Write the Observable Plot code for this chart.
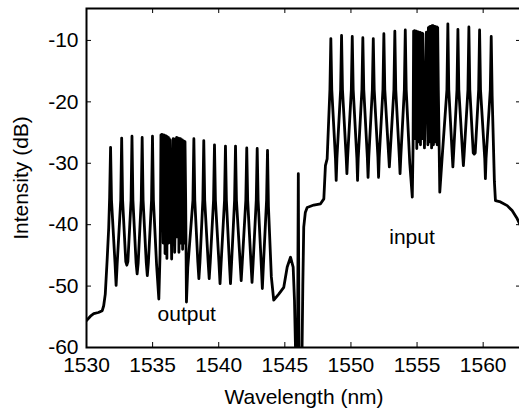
<!DOCTYPE html>
<html><head><meta charset="utf-8">
<script src="https://cdn.jsdelivr.net/npm/d3@7"></script>
<script src="https://cdn.jsdelivr.net/npm/@observablehq/plot@0.6"></script>
<style>html,body{margin:0;padding:0;background:#fff;overflow:hidden}</style>
</head><body><div id="chart"></div>
<script>
const xTicks = [1530, 1535, 1540, 1545, 1550, 1555, 1560];
const yTicks = [-60, -50, -40, -30, -20, -10];

// output spectrum (left comb)
const outputWl = [
  1530.00, 1530.30, 1530.55, 1530.90, 1531.19, 1531.30, 1531.42, 1531.56, 1531.68, 1531.75,
  1531.82, 1531.89, 1532.16, 1532.24, 1532.32, 1532.59,
  1532.66, 1532.73, 1532.97, 1533.05, 1533.13, 1533.37,
  1533.44, 1533.51, 1533.75, 1533.83, 1533.91, 1534.14,
  1534.21, 1534.28, 1534.52, 1534.60, 1534.68, 1534.92,
  1534.99, 1535.06, 1535.30, 1535.47, 1535.56,
  1535.60, 1535.63, 1535.66, 1535.70, 1535.73, 1535.77, 1535.80, 1535.84, 1535.87, 1535.91,
  1535.94, 1535.98, 1536.01, 1536.05, 1536.08, 1536.12, 1536.15, 1536.19, 1536.22, 1536.26,
  1536.29, 1536.33, 1536.38, 1536.44,
  1536.49, 1536.56, 1536.63, 1536.67,
  1536.72, 1536.75, 1536.78, 1536.82, 1536.85, 1536.89, 1536.92, 1536.96, 1536.99, 1537.03,
  1537.06, 1537.10, 1537.13, 1537.17, 1537.20, 1537.24, 1537.27, 1537.31, 1537.34, 1537.38,
  1537.41, 1537.45, 1537.50, 1537.56, 1537.66,
  1538.05, 1538.12, 1538.19, 1538.42, 1538.50, 1538.58, 1538.80,
  1538.87, 1538.94, 1539.20, 1539.28, 1539.36, 1539.61,
  1539.68, 1539.75, 1540.02, 1540.10, 1540.18, 1540.44,
  1540.51, 1540.58, 1540.81, 1540.89, 1540.97, 1541.20,
  1541.27, 1541.34, 1541.62, 1541.70, 1541.78, 1542.05,
  1542.12, 1542.19, 1542.44, 1542.52, 1542.60, 1542.84,
  1542.91, 1542.98, 1543.22, 1543.30, 1543.38, 1543.62,
  1543.69, 1543.76, 1543.98, 1544.16, 1544.35, 1544.54, 1544.92, 1545.18, 1545.43, 1545.63,
  1545.73, 1545.81, 1545.88
];
const outputDb = [
  -55.6, -54.9, -54.5, -54.3, -54.0, -53.2, -51.3, -45.8, -40.5, -35.5,
  -27.4, -36.0, -46.4, -49.9, -46.4, -36.0,
  -25.9, -36.0, -46.0, -46.6, -46.0, -36.0,
  -25.6, -36.0, -46.2, -48.0, -46.2, -36.0,
  -25.8, -36.0, -46.2, -48.3, -46.2, -36.0,
  -25.6, -36.0, -46.5, -52.1, -45.0,
  -38.0, -25.4, -41.0, -25.3, -39.0, -25.5, -43.0, -25.4, -40.0, -25.6,
  -44.7, -25.5, -41.0, -25.6, -45.5, -25.7, -42.0, -25.8, -43.0, -26.0,
  -38.0, -26.2, -36.0, -45.6,
  -36.0, -26.0, -36.0, -44.5,
  -38.0, -26.0, -40.0, -25.8, -42.0, -25.9, -39.0, -25.9, -44.5, -26.0,
  -41.0, -26.0, -43.0, -26.1, -40.0, -26.2, -44.0, -26.3, -41.0, -26.4,
  -43.0, -26.5, -36.0, -52.6, -47.0,
  -36.0, -26.0, -36.0, -46.1, -48.8, -46.1, -36.0,
  -26.3, -36.0, -46.1, -48.8, -46.1, -36.0,
  -27.0, -36.0, -46.3, -49.6, -46.3, -36.0,
  -27.2, -36.0, -46.3, -49.6, -46.3, -36.0,
  -27.2, -36.0, -46.2, -49.1, -46.2, -36.0,
  -27.5, -36.0, -46.3, -49.4, -46.3, -36.0,
  -27.6, -36.0, -46.6, -50.4, -46.6, -36.0,
  -27.9, -37.0, -48.5, -52.3, -51.8, -51.3, -50.2, -46.9, -45.3, -46.9,
  -52.3, -60.5, -66.0
];

// pump / gap region
const gapWl = [1545.95, 1546.02, 1546.08, 1546.16, 1546.22, 1546.30, 1546.36, 1546.43, 1546.55, 1546.69, 1547.19, 1547.70, 1547.95, 1548.07, 1548.20];
const gapDb = [-66.0, -31.7, -66.0, -64.0, -66.0, -61.0, -50.0, -40.4, -38.0, -37.2, -36.8, -36.6, -35.8, -30.4, -29.3];

// input spectrum (right comb)
const inputWl = [
  1548.41, 1548.48, 1548.55, 1548.83, 1548.885, 1548.94, 1549.22,
  1549.29, 1549.36, 1549.64, 1549.695, 1549.75, 1550.03,
  1550.10, 1550.17, 1550.45, 1550.50, 1550.55, 1550.83,
  1550.90, 1550.97, 1551.24, 1551.295, 1551.35, 1551.62,
  1551.69, 1551.76, 1552.04, 1552.09, 1552.14, 1552.42,
  1552.49, 1552.56, 1552.85, 1552.905, 1552.96, 1553.25,
  1553.32, 1553.39, 1553.66, 1553.715, 1553.77, 1554.04,
  1554.11, 1554.18, 1554.45, 1554.64, 1554.70,
  1554.74, 1554.77, 1554.81, 1554.84, 1554.88, 1554.91, 1554.95, 1554.98, 1555.02, 1555.05,
  1555.09, 1555.12, 1555.16, 1555.19, 1555.23, 1555.26, 1555.30, 1555.33, 1555.37, 1555.40,
  1555.44, 1555.49, 1555.56,
  1555.64, 1555.71, 1555.78, 1555.82,
  1555.86, 1555.89, 1555.93, 1555.96, 1556.00, 1556.03, 1556.07, 1556.10, 1556.14, 1556.17,
  1556.21, 1556.24, 1556.28, 1556.31, 1556.35, 1556.38, 1556.42, 1556.45, 1556.49, 1556.52,
  1556.56, 1556.61, 1556.72, 1556.90,
  1557.26, 1557.33, 1557.40, 1557.66, 1557.71, 1557.76, 1558.02,
  1558.09, 1558.16, 1558.45, 1558.505, 1558.56, 1558.85,
  1558.92, 1558.99, 1559.25, 1559.325, 1559.40, 1559.66,
  1559.73, 1559.80, 1560.12, 1560.17, 1560.22, 1560.54,
  1560.61, 1560.68, 1560.85, 1560.93, 1561.31, 1561.82, 1562.19, 1562.57, 1562.90
];
const inputDb = [
  -18.0, -9.7, -18.0, -29.2, -32.8, -29.2, -18.0,
  -9.2, -18.0, -29.0, -31.7, -29.0, -18.0,
  -9.35, -18.0, -29.2, -32.8, -29.2, -18.0,
  -9.56, -18.0, -29.0, -32.3, -29.0, -18.0,
  -9.7, -18.0, -29.0, -32.3, -29.0, -18.0,
  -8.9, -18.0, -28.6, -30.6, -28.6, -18.0,
  -8.5, -18.0, -29.0, -31.7, -29.0, -18.0,
  -8.3, -18.0, -30.0, -35.5, -27.0,
  -8.5, -24.0, -8.4, -26.0, -8.6, -22.0, -8.5, -27.6, -8.7, -24.0,
  -8.6, -26.5, -8.8, -23.0, -8.7, -27.0, -8.9, -24.0, -8.8, -26.0,
  -8.9, -19.0, -27.5,
  -18.0, -8.65, -18.0, -27.0,
  -7.9, -24.0, -7.8, -26.5, -7.7, -23.0, -7.7, -27.5, -7.6, -25.0,
  -7.6, -27.0, -7.7, -23.0, -7.7, -26.5, -7.8, -24.0, -7.8, -27.0,
  -7.9, -18.0, -34.7, -29.0,
  -18.0, -7.3, -18.0, -28.6, -30.6, -28.6, -18.0,
  -8.2, -18.0, -28.6, -30.4, -28.6, -18.0,
  -7.8, -18.0, -28.3, -28.5, -28.3, -18.0,
  -8.3, -18.0, -29.2, -32.5, -29.2, -18.0,
  -9.35, -19.0, -33.0, -36.1, -36.3, -36.9, -37.7, -39.0, -40.5
];

const annotationText = ["output", "input"];
const annotationWl = [1537.58, 1554.62];
const annotationDb = [-54.6, -42.0];

const wl = [...outputWl, ...gapWl, ...inputWl];
const db = [...outputDb, ...gapDb, ...inputDb];
const spectrum = wl.map((w, i) => ({w, v: db[i]}));
const annotations = annotationText.map((t, i) => ({t, w: annotationWl[i], v: annotationDb[i]}));

const W = 519, H = 411, mL = 86, mR = -2, mT = 8, mB = 64;
const fw = W - mL - mR, fh = H - mT - mB, tk = 5;

const chart = Plot.plot({
  width: W, height: H,
  marginLeft: mL, marginRight: mR, marginTop: mT, marginBottom: mB,
  style: {fontFamily: "'Liberation Sans', Arial, sans-serif", fontSize: "21px", color: "black", background: "white", overflow: "hidden"},
  x: {domain: [1530, 1562.9]},
  y: {domain: [-60, -4.8]},
  marks: [
    Plot.line(spectrum, {x: "w", y: "v", stroke: "black", strokeWidth: 2.8, clip: true, strokeLinejoin: "round", curve: "linear"}),
    Plot.tickX(xTicks, {x: d => d, insetTop: fh - tk, stroke: "black"}),
    Plot.tickX(xTicks, {x: d => d, insetBottom: fh - tk, stroke: "black"}),
    Plot.tickY(yTicks, {y: d => d, insetRight: fw - tk, stroke: "black"}),
    Plot.tickY(yTicks, {y: d => d, insetLeft: fw - tk, stroke: "black"}),
    Plot.frame({stroke: "black", strokeWidth: 2}),
    Plot.axisX(xTicks, {tickSize: 0, tickPadding: 10, tickFormat: d => String(d), fontSize: 21,
      label: "Wavelength (nm)", labelAnchor: "center", labelArrow: "none", labelOffset: 56}),
    Plot.axisY(yTicks, {tickSize: 0, tickPadding: 8, tickFormat: d => String(d), fontSize: 21,
      label: "Intensity (dB)", labelAnchor: "center", labelArrow: "none", labelOffset: 73}),
    Plot.text(annotations, {x: "w", y: "v", text: "t", fontSize: 21, fill: "black"})
  ]
});
document.getElementById("chart").appendChild(chart);
</script>
</body></html>
